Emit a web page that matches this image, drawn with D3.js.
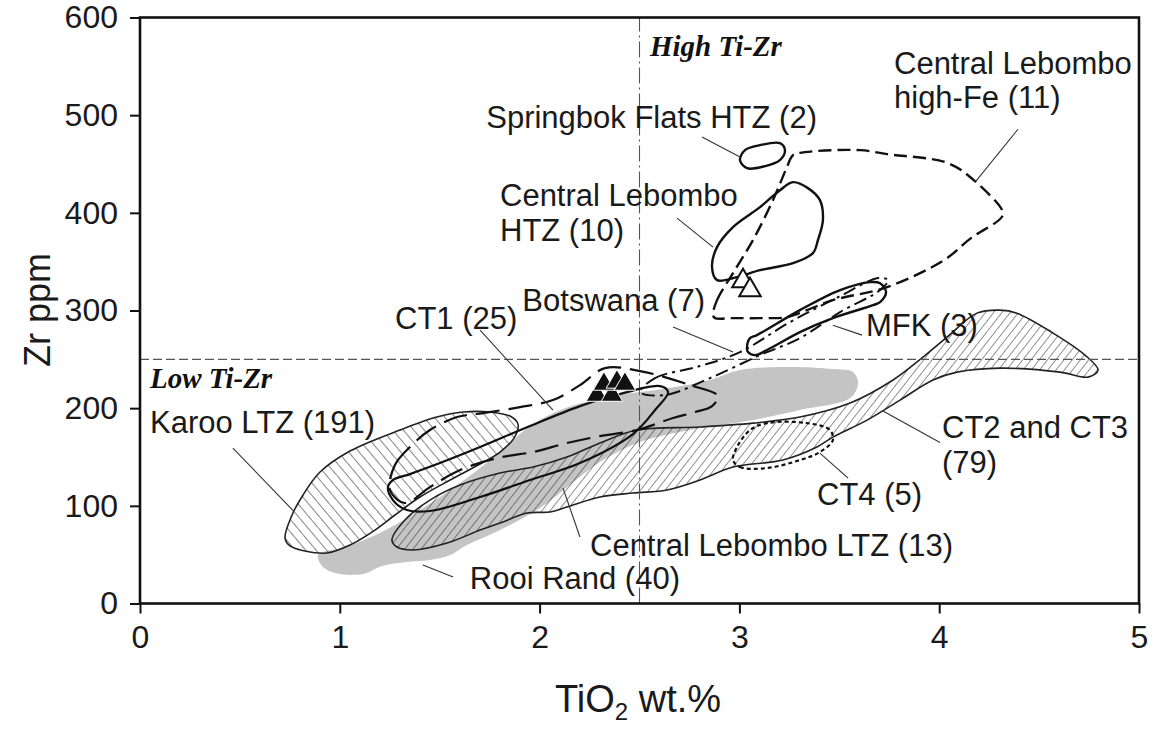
<!DOCTYPE html>
<html><head><meta charset="utf-8">
<script src="https://cdn.jsdelivr.net/npm/d3@7"></script>
<style>
body{margin:0;background:#fff;}
svg{display:block;font-family:"Liberation Sans",Arial,sans-serif;}
</style></head><body>
<svg id="c" width="1156" height="731"></svg>
<script>
// ---------- data (TiO2 wt.%, Zr ppm) ----------
const xTicks = [0,1,2,3,4,5];
const yTicks = [0,100,200,300,400,500,600];
const xTitle = "TiO";
const yTitle = "Zr ppm";
const splitTi = 2.5, splitZr = 250;

const karooLTZ = [[0.726,67.0],[0.761,90.6],[0.816,111.1],[0.901,134.6],[1.051,156.1],[1.301,177.6],[1.486,190.9],[1.617,196.0],[1.752,196.0],[1.852,191.9],[1.892,183.7],[1.872,169.4],[1.802,155.1],[1.702,142.8],[1.552,126.4],[1.401,109.0],[1.276,90.6],[1.176,75.2],[1.051,59.9],[0.936,51.7],[0.826,53.7],[0.751,58.9]];
const rooiRand = [[0.891,49.6],[0.911,38.4],[0.976,31.2],[1.116,30.2],[1.211,38.4],[1.336,42.5],[1.451,44.5],[1.552,49.6],[1.627,58.9],[1.802,75.2],[2.002,97.7],[2.152,121.3],[2.302,144.8],[2.503,165.3],[2.753,177.6],[3.068,187.8],[3.303,198.1],[3.554,210.3],[3.594,225.7],[3.569,236.9],[3.468,240.0],[3.238,242.1],[3.003,239.0],[2.853,228.8],[2.618,219.5],[2.367,212.4],[2.117,199.1],[1.952,181.7],[1.802,155.1],[1.602,123.3],[1.401,95.7],[1.201,72.2],[1.026,57.8]];
const ct2ct3 = [[1.261,65.0],[1.286,57.8],[1.366,54.8],[1.537,61.9],[1.702,75.2],[1.802,82.4],[1.937,92.6],[2.052,93.7],[2.137,98.8],[2.302,109.0],[2.467,113.1],[2.638,116.2],[2.803,126.4],[2.968,139.7],[3.218,146.9],[3.388,160.2],[3.468,170.4],[3.639,187.8],[3.804,208.3],[3.969,228.8],[4.089,236.9],[4.304,241.0],[4.605,236.9],[4.745,231.8],[4.795,239.0],[4.730,254.3],[4.570,276.9],[4.389,297.3],[4.304,300.4],[4.189,297.3],[4.039,272.8],[3.919,252.3],[3.769,228.8],[3.554,205.2],[3.303,190.9],[3.068,184.7],[2.803,180.7],[2.487,177.6],[2.302,164.3],[2.137,149.9],[1.967,139.7],[1.802,133.6],[1.602,121.3],[1.451,105.9],[1.326,85.5]];
const ct4 = [[2.968,146.9],[3.003,139.7],[3.138,138.7],[3.303,146.9],[3.403,155.1],[3.468,167.3],[3.453,177.6],[3.338,184.7],[3.138,184.7],[3.053,177.6],[2.988,160.2]];
const clLTZ = [[1.241,119.2],[1.266,105.9],[1.336,95.7],[1.451,94.7],[1.702,109.0],[1.952,126.4],[2.202,143.8],[2.467,173.5],[2.578,198.1],[2.643,216.5],[2.603,222.6],[2.367,212.4],[2.202,202.1],[1.952,181.7],[1.702,160.2],[1.501,143.8],[1.351,132.5],[1.266,126.4]];
const ct1 = [[1.251,116.2],[1.276,141.8],[1.351,160.2],[1.451,177.6],[1.587,190.9],[1.717,195.0],[1.902,201.1],[2.067,208.3],[2.202,223.6],[2.327,241.0],[2.503,238.0],[2.753,223.6],[2.893,212.4],[2.863,202.1],[2.778,196.0],[2.668,189.9],[2.487,177.6],[2.302,171.4],[2.137,164.3],[1.967,155.1],[1.787,148.9],[1.602,136.6],[1.451,119.2],[1.326,102.9]];
const botswana = [[2.503,216.5],[2.578,230.8],[2.803,243.1],[3.003,257.4],[3.253,288.1],[3.504,314.7],[3.694,333.2],[3.744,331.1],[3.704,320.9],[3.504,298.4],[3.303,271.7],[3.103,254.3],[2.853,230.8],[2.628,213.4]];
const mfk = [[3.038,262.5],[3.053,271.7],[3.088,274.8],[3.303,300.4],[3.504,320.9],[3.654,329.1],[3.704,328.0],[3.734,318.8],[3.704,308.6],[3.669,305.5],[3.468,292.2],[3.303,277.9],[3.138,259.5],[3.078,254.3],[3.043,257.4]];
const clHTZ = [[3.268,431.4],[3.343,425.3],[3.403,413.0],[3.418,392.5],[3.393,372.1],[3.368,358.7],[3.268,348.5],[3.103,341.3],[2.988,334.2],[2.888,331.1],[2.863,344.4],[2.888,364.9],[2.968,385.4],[3.103,405.8],[3.203,423.2]];
const springbok = [[3.003,453.9],[3.028,464.2],[3.103,469.3],[3.203,471.3],[3.228,464.2],[3.203,453.9],[3.128,447.8],[3.038,445.7]];
const clHighFe = [[2.868,295.3],[2.888,310.6],[2.968,338.3],[3.068,372.1],[3.168,413.0],[3.238,446.8],[3.268,459.0],[3.328,462.1],[3.604,464.2],[3.739,460.1],[4.044,450.9],[4.179,432.4],[4.319,400.7],[4.309,394.6],[4.159,374.1],[4.024,351.6],[3.739,323.9],[3.468,310.6],[3.338,300.4],[3.238,293.2],[3.103,292.2],[2.968,292.2],[2.878,292.2]];
const filledTriangles = [[2.287,213.4],[2.362,213.4],[2.322,224.7],[2.387,226.8],[2.427,224.7]];
const openTriangles = [[3.018,330.1],[3.053,320.9]];

// labels: text lines
const labelTexts = {
  springbok:["Springbok Flats HTZ (2)"],
  clHTZ:["Central Lebombo","HTZ (10)"],
  botswana:["Botswana (7)"],
  ct1:["CT1 (25)"],
  mfk:["MFK (3)"],
  highFe:["Central Lebombo","high-Fe (11)"],
  karoo:["Karoo LTZ (191)"],
  ct2:["CT2 and CT3","(79)"],
  ct4:["CT4 (5)"],
  clLTZ:["Central Lebombo LTZ (13)"],
  rooi:["Rooi Rand (40)"]
};
const fieldTexts = ["High Ti-Zr","Low Ti-Zr"];
// leader lines [from, to] in data units
const leaders = [
  [[2.813,477.6],[3.003,457.1]],
  [[2.688,394.6],[2.868,364.9]],
  [[4.394,485.6],[4.184,432.4]],
  [[2.668,283.1],[2.968,257.4]],
  [[1.702,279.8],[2.067,198.1]],
  [[3.614,274.8],[3.468,285.0]],
  [[0.465,159.1],[0.766,95.2]],
  [[4.004,164.8],[3.714,197.6]],
  [[3.544,128.4],[3.403,154.0]],
  [[2.202,68.1],[2.117,118.2]],
  [[1.567,27.1],[1.416,39.4]]
];

// ---------- drawing ----------
const svg = d3.select("#c");
const L=140, R=1139, T=17.5, B=603.5;
const x = d3.scaleLinear().domain([0,5]).range([L,R]);
const y = d3.scaleLinear().domain([0,600]).range([B,T]);

const defs = svg.append("defs");
function hatch(id, angle, gap, w){
  const p = defs.append("pattern").attr("id",id).attr("patternUnits","userSpaceOnUse")
    .attr("width",gap).attr("height",gap).attr("patternTransform",`rotate(${angle})`);
  p.append("line").attr("x1",0).attr("y1",0).attr("x2",0).attr("y2",gap)
    .attr("stroke","#222").attr("stroke-width",w);
}
hatch("hKaroo",-40,8,1.1);
hatch("hCT2",38,6.5,1.0);

const closed = d3.line().x(d=>x(d[0])).y(d=>y(d[1])).curve(d3.curveCatmullRomClosed.alpha(0.5));

const g = svg.append("g");
// Rooi Rand gray
g.append("path").attr("d",closed(rooiRand)).attr("fill","#c4c4c4").attr("stroke","none");
// hatched fields
g.append("path").attr("d",closed(karooLTZ)).attr("fill","url(#hKaroo)").attr("stroke","#222").attr("stroke-width",1.6);
g.append("path").attr("d",closed(ct2ct3)).attr("fill","url(#hCT2)").attr("stroke","#222").attr("stroke-width",1.6);

// reference lines
g.append("line").attr("x1",x(0)).attr("x2",x(5)).attr("y1",y(splitZr)).attr("y2",y(splitZr))
  .attr("stroke","#555").attr("stroke-width",1.1).attr("stroke-dasharray","9,4");
g.append("line").attr("x1",x(splitTi)).attr("x2",x(splitTi)).attr("y1",y(0)).attr("y2",y(600))
  .attr("stroke","#555").attr("stroke-width",1.1).attr("stroke-dasharray","16,4,2,4");

// outlines
function outline(data, dash, w){
  g.append("path").attr("d",closed(data)).attr("fill","none").attr("stroke","#111")
   .attr("stroke-width",w).attr("stroke-dasharray",dash);
}
outline(clLTZ,null,2.2);
outline(ct1,"24,9",2.2);
outline(ct4,"4,3",2.2);
outline(botswana,"13,5,3,5",2.0);
outline(mfk,null,2.4);
outline(clHTZ,null,2.4);
outline(springbok,null,2.4);
outline(clHighFe,"13,6",2.4);

// leaders
leaders.forEach(l=>{
  g.append("line").attr("x1",x(l[0][0])).attr("y1",y(l[0][1])).attr("x2",x(l[1][0])).attr("y2",y(l[1][1]))
   .attr("stroke","#333").attr("stroke-width",1.1);
});

// triangles
const tri = d3.symbol().type(d3.symbolTriangle).size(200);
g.selectAll(".ft").data(filledTriangles).join("path").attr("d",tri)
  .attr("transform",d=>`translate(${x(d[0])},${y(d[1])})`).attr("fill","#111").attr("stroke","#fff").attr("stroke-width",1);
g.selectAll(".ot").data(openTriangles).join("path").attr("d",tri)
  .attr("transform",d=>`translate(${x(d[0])},${y(d[1])})`).attr("fill","#fff").attr("stroke","#111").attr("stroke-width",2);

// labels
function label(lines, px, py, anchor, lh){
  const t = svg.append("text").attr("x",px).attr("y",py).attr("text-anchor",anchor||"start")
    .attr("font-size",31).attr("fill","#1a1a1a");
  lines.forEach((s,i)=>t.append("tspan").attr("x",px).attr("dy",i?lh:0).text(s));
}
label(labelTexts.springbok,817,128,"end");
label(labelTexts.clHTZ,500,206,"start",35);
label(labelTexts.botswana,705,311,"end");
label(labelTexts.ct1,395,329,"start");
label(labelTexts.mfk,866,336,"start");
label(labelTexts.highFe,894,74,"start",34);
label(labelTexts.karoo,150,433,"start");
label(labelTexts.ct2,942,438,"start",35);
label(labelTexts.ct4,817,505,"start");
label(labelTexts.clLTZ,590,556,"start");
label(labelTexts.rooi,680,589,"end");

svg.append("text").attr("x",650).attr("y",56).attr("font-family","'Liberation Serif','Times New Roman',serif")
  .attr("font-weight","bold").attr("font-style","italic").attr("font-size",29).attr("fill","#111").text(fieldTexts[0]);
svg.append("text").attr("x",150).attr("y",388).attr("font-family","'Liberation Serif','Times New Roman',serif")
  .attr("font-weight","bold").attr("font-style","italic").attr("font-size",29).attr("fill","#111").text(fieldTexts[1]);

// axes
const ax = svg.append("g").attr("transform",`translate(0,${B})`)
  .call(d3.axisBottom(x).tickValues(xTicks).tickSize(10).tickPadding(12).tickFormat(d3.format("d")));
const ay = svg.append("g").attr("transform",`translate(${L},0)`)
  .call(d3.axisLeft(y).tickValues(yTicks).tickSize(10).tickPadding(12).tickFormat(d3.format("d")));
[ax,ay].forEach(a=>{
  a.select(".domain").remove();
  a.selectAll(".tick line").attr("stroke","#111").attr("stroke-width",2);
  a.selectAll(".tick text").attr("font-size",32).attr("fill","#1a1a1a").attr("font-family","'Liberation Sans',Arial,sans-serif");
});
svg.append("rect").attr("x",L).attr("y",T).attr("width",R-L).attr("height",B-T)
  .attr("fill","none").attr("stroke","#111").attr("stroke-width",2.6);

// axis titles
const xt = svg.append("text").attr("x",638).attr("y",712).attr("text-anchor","middle")
  .attr("font-size",38).attr("fill","#1a1a1a");
xt.append("tspan").text(xTitle);
xt.append("tspan").attr("font-size",24).attr("dy",8).text("2");
xt.append("tspan").attr("dy",-8).text(" wt.%");
svg.append("text").attr("transform","translate(50,310) rotate(-90)").attr("text-anchor","middle")
  .attr("font-size",36).attr("fill","#1a1a1a").text(yTitle);
</script>
</body></html>
